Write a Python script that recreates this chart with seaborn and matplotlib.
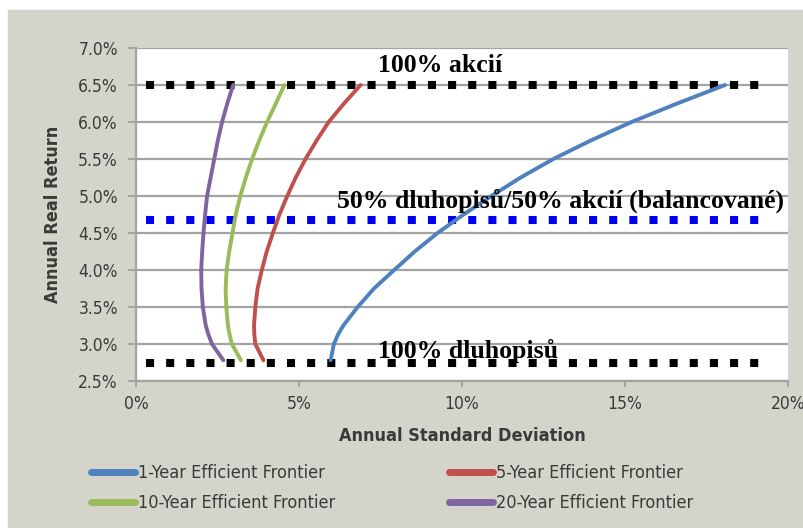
import numpy as np
import pandas as pd
import seaborn as sns
import matplotlib.pyplot as plt
from matplotlib.patches import Rectangle
from matplotlib.ticker import FuncFormatter, MultipleLocator

# values (percent)
returns = [2.78, 3.0, 3.13, 3.25, 3.5, 3.75, 4.0, 4.25, 4.5, 4.75,
           5.0, 5.25, 5.5, 5.75, 6.0, 6.25, 6.5]
sd_1y = [5.97, 6.07, 6.2, 6.36, 6.8, 7.3, 7.92, 8.55, 9.25, 10.05,
         10.9, 11.8, 12.8, 13.95, 15.2, 16.6, 18.07]
sd_5y = [3.91, 3.66, 3.63, 3.62, 3.66, 3.73, 3.86, 4.01, 4.2, 4.4,
         4.64, 4.9, 5.2, 5.54, 5.91, 6.38, 6.89]
sd_10y = [3.22, 2.94, 2.87, 2.82, 2.77, 2.75, 2.78, 2.86, 2.96, 3.06,
          3.2, 3.37, 3.56, 3.78, 4.02, 4.29, 4.55]
sd_20y = [2.68, 2.33, 2.22, 2.14, 2.05, 2.01, 2.0, 2.03, 2.07, 2.12,
          2.18, 2.29, 2.4, 2.51, 2.64, 2.8, 2.98]

series_names = ["1-Year Efficient Frontier", "5-Year Efficient Frontier",
                "10-Year Efficient Frontier", "20-Year Efficient Frontier"]
series_colors = ["#4f81bd", "#c0504d", "#9bbb59", "#8064a2"]

# reference portfolios drawn as dotted lines
ref_x = [0.3, 19.3]
ref_levels = [6.5, 4.68, 2.74]
ref_colors = ["black", "#0000f0", "black"]
ref_labels = ["100% akcií", "50% dluhopisů/50% akcií (balancované)", "100% dluhopisů"]
label_pos = [(7.42, 6.76), (6.17, 4.93), (7.42, 2.9)]

df = pd.DataFrame({
    "sd": sd_1y + sd_5y + sd_10y + sd_20y,
    "ret": returns * 4,
    "series": np.repeat(series_names, len(returns)),
})

sns.set_theme(style="white")
plt.rcParams["font.family"] = ["DejaVu Sans"]
txt = "#3a3a3a"
beige = "#d5d4ca"
grid_c = "#a3a3a3"

fig = plt.figure(figsize=(8.04, 5.28), dpi=100, facecolor="white")
fig.patches.append(Rectangle((8 / 804, 0), 1, (528 - 10) / 528,
                             transform=fig.transFigure, color=beige, zorder=-10))
ax = fig.add_axes([136 / 804, (528 - 381) / 528, 652 / 804, 333 / 528])
ax.set_facecolor("white")

for y, c in zip(ref_levels, ref_colors):
    sns.lineplot(x=ref_x, y=[y, y], ax=ax, color=c, lw=5.8,
                 linestyle=(0, (1, 1.5)), dash_capstyle="butt", zorder=3)

sns.lineplot(data=df, x="sd", y="ret", hue="series", palette=series_colors,
             hue_order=series_names, sort=False, estimator=None, lw=2.8,
             ax=ax, zorder=4)

for s, (x, y) in zip(ref_labels, label_pos):
    ax.text(x, y, s, family="Liberation Serif", fontweight="bold",
            fontsize=18.5, va="center", ha="left", color="black", zorder=5)

ax.set_xlim(0, 20)
ax.set_ylim(2.5, 7.0)
ax.xaxis.set_major_locator(MultipleLocator(5))
ax.yaxis.set_major_locator(MultipleLocator(0.5))
ax.xaxis.set_major_formatter(FuncFormatter(lambda v, p: f"{v:.0f}%"))
ax.yaxis.set_major_formatter(FuncFormatter(lambda v, p: f"{v:.1f}%"))
ax.grid(axis="y", color=grid_c, lw=1.6)
ax.grid(axis="x", visible=False)
for side in ["top", "right"]:
    ax.spines[side].set_visible(False)
for side in ["left", "bottom"]:
    ax.spines[side].set_color(grid_c)
    ax.spines[side].set_linewidth(1.6)
ax.tick_params(axis="y", left=True, length=6, width=1.4, color=grid_c,
               pad=7, labelsize=12.5, labelcolor=txt)
ax.tick_params(axis="x", bottom=True, length=4, width=1.4, color=grid_c,
               pad=6, labelsize=12.5, labelcolor=txt)
for lab in ax.get_xticklabels() + ax.get_yticklabels():
    lab.set_fontstretch("condensed")
ax.get_xticklabels()[0].set_ha("left")

ax.set_xlabel("Annual Standard Deviation", fontsize=13, fontweight="bold",
              color=txt, labelpad=10, fontstretch="condensed")
ax.set_ylabel("Annual Real Return", fontsize=13, fontweight="bold",
              color=txt, labelpad=12, fontstretch="condensed")

handles, labels = ax.get_legend_handles_labels()
ax.get_legend().remove()
for h in handles:
    h.set_linewidth(5)
    h.set_solid_capstyle("round")
order = [0, 2, 1, 3]  # column-wise fill -> 1y/5y on first row
leg = fig.legend([handles[-4:][i] for i in order], [labels[-4:][i] for i in order],
                 ncol=2, loc="upper left", borderpad=0,
                 bbox_to_anchor=(82 / 804, 1 - 455 / 528), frameon=False,
                 handlelength=2.45, handletextpad=0.15, columnspacing=6.3,
                 labelspacing=0.66, prop={"size": 13, "stretch": "condensed"})
for t in leg.get_texts():
    t.set_color(txt)

fig.savefig("out.png", dpi=100, facecolor=fig.get_facecolor())
